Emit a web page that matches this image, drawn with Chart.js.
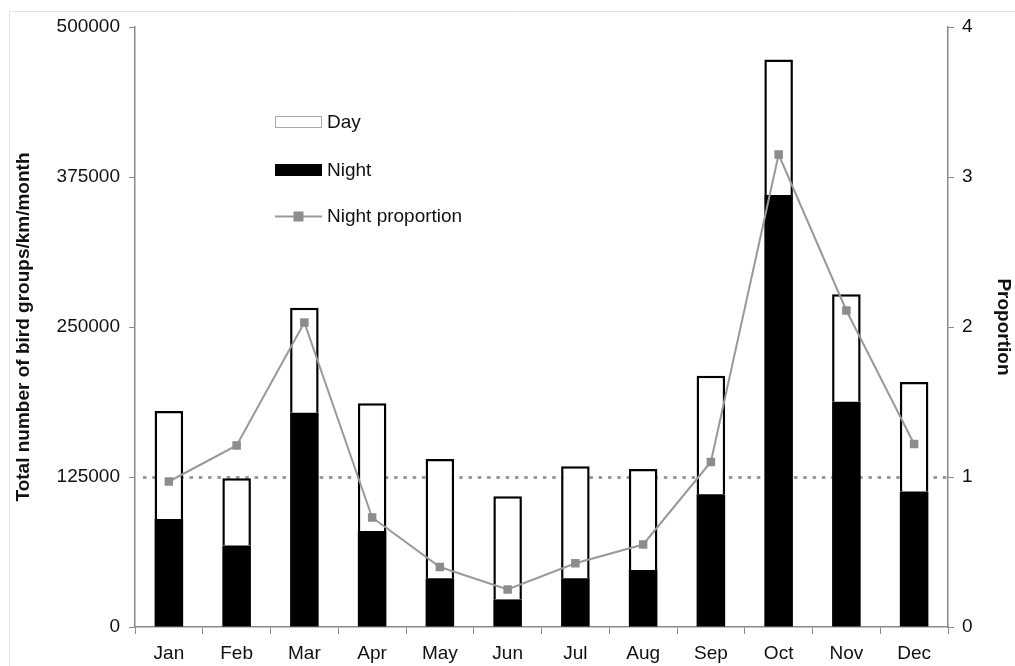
<!DOCTYPE html>
<html>
<head>
<meta charset="utf-8">
<script src="https://cdn.jsdelivr.net/npm/chart.js@4"></script>
<style>
html,body{margin:0;padding:0;background:#fff;}
#wrap{width:1015px;height:666px;position:relative;}
</style>
</head>
<body>
<div id="wrap"><canvas id="c" width="1015" height="666"></canvas></div>
<script>
const months = ['Jan','Feb','Mar','Apr','May','Jun','Jul','Aug','Sep','Oct','Nov','Dec'];
const nightValues = [90000, 68000, 178600, 80000, 40600, 23000, 40600, 47500, 110600, 360000, 187800, 113000];
const dayValues = [90000, 56000, 87400, 106400, 99400, 86000, 93400, 84200, 98800, 113000, 89400, 91200];
const nightProportion = [0.97, 1.21, 2.03, 0.73, 0.40, 0.25, 0.425, 0.55, 1.10, 3.15, 2.11, 1.22];
const leftTicks = [0, 125000, 250000, 375000, 500000];
const rightTicks = [0, 1, 2, 3, 4];
const referenceProportion = 1;

const FONT = "'Liberation Sans', Arial, sans-serif";
const AXIS = '#8a8a8a';
const FS = 19;

const framePlugin = {
  id: 'frame',
  beforeDraw(chart) {
    const ctx = chart.ctx;
    ctx.save();
    ctx.fillStyle = '#fff';
    ctx.fillRect(0, 0, chart.width, chart.height);
    ctx.strokeStyle = '#e2e2e2';
    ctx.lineWidth = 1;
    ctx.beginPath();
    ctx.moveTo(9.5, chart.height);
    ctx.lineTo(9.5, 11.5);
    ctx.lineTo(chart.width, 11.5);
    ctx.stroke();
    ctx.restore();
  }
};

const refLinePlugin = {
  id: 'refLine',
  beforeDatasetsDraw(chart) {
    const y1 = chart.scales.y1;
    const a = chart.chartArea;
    const y = Math.round(y1.getPixelForValue(referenceProportion)) + 0.5;
    const ctx = chart.ctx;
    ctx.save();
    ctx.strokeStyle = '#9a9a9a';
    ctx.lineWidth = 3;
    ctx.setLineDash([3.5, 5.8]);
    ctx.beginPath();
    ctx.moveTo(a.left + 8, y);
    ctx.lineTo(a.right, y);
    ctx.stroke();
    ctx.restore();
  }
};

const legendPlugin = {
  id: 'innerLegend',
  afterDraw(chart) {
    const ctx = chart.ctx;
    const ds = chart.data.datasets;
    const x0 = 275, w = 47, tx = 327;
    ctx.save();
    ctx.font = FS + 'px ' + FONT;
    ctx.textBaseline = 'middle';
    // Day
    ctx.fillStyle = ds[1].backgroundColor;
    ctx.fillRect(x0, 116, w, 12);
    ctx.strokeStyle = '#aaa';
    ctx.lineWidth = 1;
    ctx.strokeRect(x0 + 0.5, 116.5, w - 1, 11);
    ctx.fillStyle = '#111';
    ctx.fillText(ds[1].label, tx, 123);
    // Night
    ctx.fillStyle = ds[0].backgroundColor;
    ctx.fillRect(x0, 164, w, 12);
    ctx.fillStyle = '#111';
    ctx.fillText(ds[0].label, tx, 171);
    // Night proportion
    ctx.strokeStyle = ds[2].borderColor;
    ctx.lineWidth = 2;
    ctx.beginPath();
    ctx.moveTo(x0, 216.5);
    ctx.lineTo(x0 + w, 216.5);
    ctx.stroke();
    ctx.fillStyle = ds[2].pointBackgroundColor;
    ctx.fillRect(x0 + w / 2 - 5, 211.5, 10, 10);
    ctx.fillStyle = '#111';
    ctx.fillText(ds[2].label, tx, 217);
    ctx.restore();
  }
};

new Chart(document.getElementById('c'), {
  data: {
    labels: months,
    datasets: [
      {
        type: 'bar', label: 'Night', data: nightValues, yAxisID: 'y',
        backgroundColor: '#000', borderColor: '#000', borderWidth: 0,
        barPercentage: 0.86, categoryPercentage: 0.49, order: 2
      },
      {
        type: 'bar', label: 'Day', data: dayValues, yAxisID: 'y',
        backgroundColor: '#fff', borderColor: '#000', borderWidth: {top:2.5,left:2.5,right:2.5,bottom:0},
        borderSkipped: 'bottom',
        barPercentage: 0.86, categoryPercentage: 0.49, order: 2
      },
      {
        type: 'line', label: 'Night proportion', data: nightProportion, yAxisID: 'y1',
        borderColor: '#999', borderWidth: 2, tension: 0,
        pointStyle: 'rect', pointRadius: 6, pointBackgroundColor: '#8c8c8c',
        pointBorderColor: '#8c8c8c', pointBorderWidth: 0, order: 0
      }
    ]
  },
  options: {
    responsive: false,
    animation: false,
    events: [],
    layout: { padding: { top: 27, left: 0, right: 0, bottom: 0 } },
    plugins: { legend: { display: false }, tooltip: { enabled: false } },
    scales: {
      x: {
        stacked: true,
        offset: true,
        grid: { offset: true, drawOnChartArea: false, tickLength: 7, color: AXIS, lineWidth: 1 },
        border: { color: AXIS, width: 1.5 },
        ticks: { font: { family: FONT, size: FS }, color: '#111', padding: 8 },
        afterFit(s) { s.height = 39; }
      },
      y: {
        type: 'linear', position: 'left', stacked: true,
        min: 0, max: 500000,
        afterBuildTicks(s) { s.ticks = leftTicks.map(v => ({ value: v })); },
        grid: { drawOnChartArea: false, tickLength: 6, color: AXIS },
        border: { color: AXIS, width: 1.5 },
        ticks: { font: { family: FONT, size: FS }, color: '#111', padding: 9, callback: v => String(v) },
        title: { display: true, text: 'Total number of bird groups/km/month', font: { family: FONT, size: FS, weight: 'bold' }, color: '#111', padding: { top: 12, bottom: 0 } },
        afterFit(s) { s.width = 135; }
      },
      y1: {
        type: 'linear', position: 'right',
        min: 0, max: 4,
        afterBuildTicks(s) { s.ticks = rightTicks.map(v => ({ value: v })); },
        grid: { drawOnChartArea: false, tickLength: 6, color: AXIS },
        border: { color: AXIS, width: 1.5 },
        ticks: { font: { family: FONT, size: FS }, color: '#111', padding: 8 },
        title: { display: true, text: 'Proportion', font: { family: FONT, size: FS, weight: 'bold' }, color: '#111', padding: { top: 0, bottom: 0 } },
        afterFit(s) { s.width = 67; }
      }
    }
  },
  plugins: [framePlugin, refLinePlugin, legendPlugin]
});
</script>
</body>
</html>
